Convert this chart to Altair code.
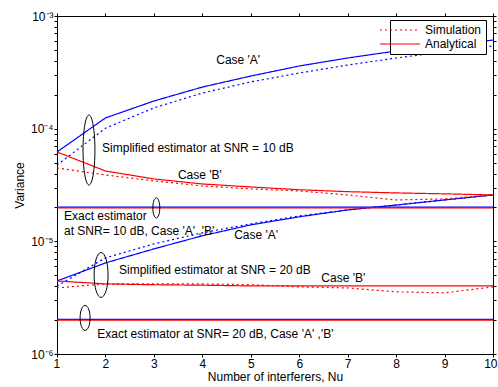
import altair as alt
import pandas as pd

# ---------------- data ----------------
x = [1, 2, 3, 4, 5, 6, 7, 8, 9, 10]

# Simplified estimator, SNR = 10 dB
a10_sim = [4.76e-5, 1.01e-4, 1.53e-4, 2.07e-4, 2.60e-4, 3.12e-4, 3.67e-4, 4.24e-4, 4.80e-4, 5.42e-4]
a10_ana = [6.21e-5, 1.245e-4, 1.76e-4, 2.34e-4, 2.93e-4, 3.60e-4, 4.24e-4, 4.89e-4, 5.42e-4, 6.12e-4]
b10_sim = [4.48e-5, 3.88e-5, 3.44e-5, 3.10e-5, 2.92e-5, 2.80e-5, 2.58e-5, 2.33e-5, 2.38e-5, 2.58e-5]
b10_ana = [6.21e-5, 4.21e-5, 3.58e-5, 3.23e-5, 3.04e-5, 2.87e-5, 2.76e-5, 2.69e-5, 2.64e-5, 2.58e-5]

# Simplified estimator, SNR = 20 dB
a20_sim = [4.02e-6, 7.13e-6, 9.49e-6, 1.19e-5, 1.43e-5, 1.68e-5, 1.90e-5, 2.10e-5, 2.33e-5, 2.58e-5]
a20_ana = [4.45e-6, 6.43e-6, 8.57e-6, 1.12e-5, 1.40e-5, 1.65e-5, 1.90e-5, 2.10e-5, 2.33e-5, 2.58e-5]
b20_sim = [3.86e-6, 4.19e-6, 4.19e-6, 4.19e-6, 4.12e-6, 3.94e-6, 3.86e-6, 3.56e-6, 3.49e-6, 3.94e-6]
b20_ana = [4.45e-6, 4.19e-6, 4.12e-6, 4.08e-6, 4.02e-6, 4.02e-6, 4.02e-6, 4.02e-6, 4.02e-6, 4.02e-6]

# Exact estimator (cases A and B)
e10_blue = [2.01e-5, 2.01e-5, 2.01e-5, 2.01e-5, 2.01e-5, 2.01e-5, 2.01e-5, 2.01e-5, 2.01e-5, 2.01e-5]
e10_red = [1.98e-5, 1.98e-5, 1.98e-5, 1.98e-5, 1.98e-5, 1.98e-5, 1.98e-5, 1.98e-5, 1.98e-5, 1.98e-5]
e20_blue = [2.03e-6, 2.03e-6, 2.03e-6, 2.03e-6, 2.03e-6, 2.03e-6, 2.03e-6, 2.03e-6, 2.03e-6, 2.03e-6]
e20_red = [2.00e-6, 2.00e-6, 2.00e-6, 2.00e-6, 2.00e-6, 2.00e-6, 2.00e-6, 2.00e-6, 2.00e-6, 2.00e-6]

# annotations (data coordinates)
left_texts = ["Simplified estimator at SNR = 10 dB", "Exact  estimator",
              "at SNR= 10 dB, Case 'A' ,'B'", "Simplified estimator at SNR = 20 dB",
              "Exact  estimator at SNR= 20 dB, Case 'A' ,'B'"]
left_tx = [1.93, 1.145, 1.145, 2.28, 1.83]
left_ty = [6.75e-5, 1.68e-5, 1.24e-5, 5.57e-6, 1.51e-6]

center_texts = ["Case 'A'", "Case 'B'", "Case 'A'", "Case 'B'"]
center_tx = [4.74, 3.95, 5.11, 6.91]
center_ty = [4.07e-4, 3.88e-5, 1.14e-5, 4.73e-6]

ell_x = [1.66, 3.05, 1.91, 1.58]
ell_y = [6.47e-5, 1.98e-5, 5.03e-6, 2.09e-6]

x_ticks = [1, 2, 3, 4, 5, 6, 7, 8, 9, 10]
y_ticks = [1e-6, 2e-6, 3e-6, 4e-6, 5e-6, 6e-6, 7e-6, 8e-6, 9e-6,
           1e-5, 2e-5, 3e-5, 4e-5, 5e-5, 6e-5, 7e-5, 8e-5, 9e-5,
           1e-4, 2e-4, 3e-4, 4e-4, 5e-4, 6e-4, 7e-4, 8e-4, 9e-4, 1e-3]

# ---------------- tables ----------------
def frame(series):
    recs = []
    for name, kind, vals in series:
        for xi, v in zip(x, vals):
            recs.append({"x": xi, "v": v, "series": name, "kind": kind})
    return pd.DataFrame(recs)

blue_df = frame([
    ("A10s", "Simulation", a10_sim), ("A10a", "Analytical", a10_ana),
    ("A20s", "Simulation", a20_sim), ("A20a", "Analytical", a20_ana),
    ("E10b", "Analytical", e10_blue), ("E20b", "Analytical", e20_blue),
])
red_df = frame([
    ("B10s", "Simulation", b10_sim), ("B10a", "Analytical", b10_ana),
    ("B20s", "Simulation", b20_sim), ("B20a", "Analytical", b20_ana),
    ("E10r", "Analytical", e10_red), ("E20r", "Analytical", e20_red),
])
left_df = pd.DataFrame({"x": left_tx, "v": left_ty, "t": left_texts})
center_df = pd.DataFrame({"x": center_tx, "v": center_ty, "t": center_texts})
ell_df = pd.DataFrame({"x": ell_x, "v": ell_y})

FONT = "Liberation Sans"
label_expr = ("datum.value == 0.001 ? '10\u207b\u00b3' : datum.value == 0.0001 ? '10\u207b\u2074' : "
              "datum.value == 0.00001 ? '10\u207b\u2075' : datum.value == 0.000001 ? '10\u207b\u2076' : ''")

x_scale = alt.Scale(domain=[1, 10], nice=False, zero=False)
y_scale = alt.Scale(type="log", domain=[1e-6, 1e-3], nice=False)

x_enc = alt.X("x:Q", scale=x_scale,
              axis=alt.Axis(values=x_ticks, format="d", title="Number of interferers, Nu",
                            grid=False, tickSize=3, labelPadding=1, titlePadding=2,
                            labelFlush=True, labelFlushOffset=4))
y_enc = alt.Y("v:Q", scale=y_scale,
              axis=alt.Axis(values=y_ticks, labelExpr=label_expr, title="Variance",
                            grid=False, tickSize=3, labelPadding=1, titlePadding=4,
                            labelFlush=False, labelOverlap=False))

dash_enc = alt.StrokeDash(
    "kind:N",
    scale=alt.Scale(domain=["Simulation", "Analytical"], range=[[2, 3], [1, 0]]),
    legend=alt.Legend(title=None, orient="none", legendX=333, legendY=4,
                      symbolType="M-5,0H5", symbolSize=64, symbolStrokeColor="#ff0000",
                      symbolStrokeWidth=1.2, labelOffset=19, labelFontSize=12, labelFont=FONT,
                      strokeColor="black", fillColor="white", padding=4, rowPadding=2),
)

blue = alt.Chart(blue_df).mark_line(color="#0000ff", strokeWidth=1.2).encode(
    x=x_enc, y=y_enc, strokeDash=dash_enc, detail="series:N")
red = alt.Chart(red_df).mark_line(color="#ff0000", strokeWidth=1.2).encode(
    x=x_enc, y=y_enc, strokeDash=dash_enc, detail="series:N")

left_txt = alt.Chart(left_df).mark_text(align="left", baseline="middle", font=FONT,
                                       fontSize=12, color="black").encode(x=x_enc, y=y_enc, text="t:N")
center_txt = alt.Chart(center_df).mark_text(align="center", baseline="middle", font=FONT,
                                           fontSize=12, color="black").encode(x=x_enc, y=y_enc, text="t:N")

def ellipse(i, ratio, size):
    path = f"M0,-1A{ratio},1 0 1,1 0,1A{ratio},1 0 1,1 0,-1Z"
    return alt.Chart(ell_df.iloc[[i]]).mark_point(
        shape=path, size=size, filled=False, color="black", strokeWidth=1, opacity=1
    ).encode(x=x_enc, y=y_enc)

main = alt.layer(
    blue, red, left_txt, center_txt,
    ellipse(0, 0.17, 4900), ellipse(1, 0.35, 400), ellipse(2, 0.31, 2025), ellipse(3, 0.4, 625),
)

frame_layer = alt.Chart(ell_df).mark_point(opacity=0).encode(
    x=alt.X("x:Q", scale=x_scale,
            axis=alt.Axis(orient="top", values=x_ticks, labels=False, title=None, grid=False,
                          tickSize=3, domain=False)),
    y=alt.Y("v:Q", scale=y_scale,
            axis=alt.Axis(orient="right", values=y_ticks, labels=False, title=None, grid=False,
                          tickSize=3, domain=False)),
)

chart = alt.layer(main, frame_layer).resolve_axis(x="independent", y="independent").properties(
    width=436, height=338,
    background="white",
    autosize=alt.AutoSizeParams(type="none"),
    padding={"left": 57, "top": 16, "right": 5, "bottom": 33},
).configure_view(stroke="black", strokeWidth=1).configure_axis(
    labelFont=FONT, titleFont=FONT, labelFontSize=12, titleFontSize=12,
    titleFontWeight="normal", labelColor="black", titleColor="black",
    domainColor="black", tickColor="black",
)

chart.save("out.html", embed_options={"renderer": "svg", "actions": False})
